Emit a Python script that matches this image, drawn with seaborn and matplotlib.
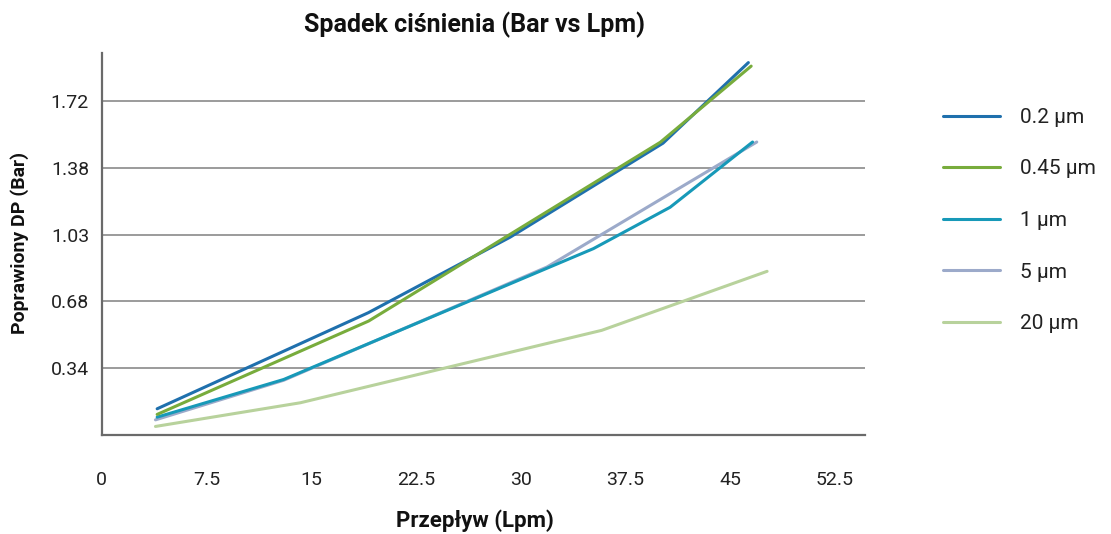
import pandas as pd
import matplotlib.pyplot as plt
import seaborn as sns

# dane (Lpm, Bar)
x_02 = [3.98, 19.1, 29.25, 40.19, 46.3]
y_02 = [0.135, 0.630, 1.019, 1.503, 1.918]

x_045 = [3.98, 19.12, 40.0, 46.5]
y_045 = [0.106, 0.587, 1.508, 1.900]

x_1 = [3.98, 13.04, 35.21, 40.7, 46.6]
y_1 = [0.092, 0.286, 0.960, 1.173, 1.509]

x_5 = [3.86, 13.04, 31.88, 46.9]
y_5 = [0.078, 0.282, 0.865, 1.509]

x_20 = [3.86, 14.23, 35.8, 47.64]
y_20 = [0.044, 0.166, 0.539, 0.843]

series = ['0.2 µm', '0.45 µm', '1 µm', '5 µm', '20 µm']
colors = ['#1f70ad', '#78ac3c', '#1799b8', '#9caaca', '#b8d29c']

y_ticks = [0.344, 0.688, 1.032, 1.376, 1.72]
y_tick_labels = ['0.34', '0.68', '1.03', '1.38', '1.72']
x_ticks = [0, 7.5, 15, 22.5, 30, 37.5, 45, 52.5]
x_tick_labels = ['0', '7.5', '15', '22.5', '30', '37.5', '45', '52.5']

sns.set_theme(style="white")
plt.rcParams['font.family'] = ['Roboto', 'DejaVu Sans']

fig = plt.figure(figsize=(11.11, 5.34), dpi=100)
ax = fig.add_axes([0.0914, 0.1854, 0.6872, 0.7159])

data = [(x_02, y_02), (x_045, y_045), (x_1, y_1), (x_5, y_5), (x_20, y_20)]
zorders = [4, 5, 4, 3, 3]
for (xs, ys), name, col, z in zip(data, series, colors, zorders):
    df = pd.DataFrame({'Lpm': xs, 'Bar': ys})
    sns.lineplot(data=df, x='Lpm', y='Bar', ax=ax, color=col, linewidth=2.2,
                 label=name, sort=False, estimator=None, zorder=z)

ax.set_xlim(0, 54.65)
ax.set_ylim(0, 1.969)
ax.set_xticks(x_ticks)
ax.set_xticklabels(x_tick_labels)
ax.set_yticks(y_ticks)
ax.set_yticklabels(y_tick_labels)
ax.tick_params(axis='x', length=0, pad=26, labelsize=14, colors='#222222')
ax.tick_params(axis='y', length=0, pad=9, labelsize=14, colors='#222222')

ax.yaxis.grid(True, color='#8a8a8a', linewidth=1.2)
ax.xaxis.grid(False)
for s in ['top', 'right']:
    ax.spines[s].set_visible(False)
for s in ['left', 'bottom']:
    ax.spines[s].set_color('#6a6a6a')
    ax.spines[s].set_linewidth(1.6)

ax.set_xlabel('Przepływ (Lpm)', fontsize=16, fontweight='bold', color='#111111')
ax.xaxis.set_label_coords(0.489, -0.195)
ax.set_ylabel('Poprawiony DP (Bar)', fontsize=14, fontweight='bold', color='#111111')
ax.yaxis.label.set_va('center')
ax.yaxis.set_label_coords(-0.107, 0.502)

fig.text(0.4275, 0.953, 'Spadek ciśnienia (Bar vs Lpm)', ha='center', va='center',
         fontsize=18, fontweight='bold', color='#111111')

ax.legend(loc='upper left', bbox_to_anchor=(943 / 1111, (534 - 108) / 534),
          bbox_transform=fig.transFigure, frameon=False, fontsize=15,
          handlelength=2.75, handletextpad=0.95, labelspacing=1.56,
          borderpad=0, borderaxespad=0, labelcolor='#222222')

plt.savefig('out.png', dpi=100)
